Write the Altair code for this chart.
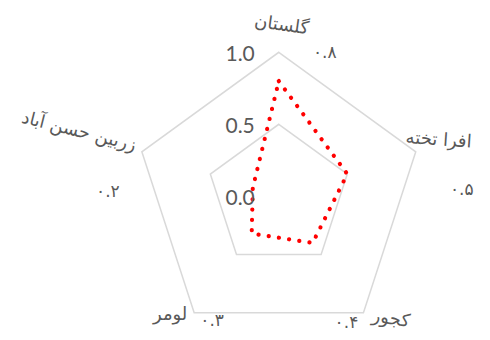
import altair as alt
import pandas as pd

categories = ["گلستان", "افرا تخته", "کجور", "لومر", "زربین حسن آباد"]
values = [0.8, 0.5, 0.4, 0.32, 0.19]
value_labels = ["۰.۸", "۰.۵", "۰.۴", "۰.۳", "۰.۲"]
grid_levels = [0.5, 1.0]
tick_values = [0.0, 0.5, 1.0]
tick_labels = ["0.0", "0.5", "1.0"]

N = len(categories)

df = pd.DataFrame({"idx": list(range(N)), "cat": categories, "value": values,
                   "vlabel": value_labels, "outer": [1.0] * N})
grid = pd.DataFrame([{"idx": i, "level": lv} for lv in grid_levels for i in range(N)])
ticks = pd.DataFrame({"tick": tick_values, "label": tick_labels, "idx": [0] * len(tick_values)})

xs = alt.Scale(domain=[-1.8806, 1.4111], nice=False, zero=False)
ys = alt.Scale(domain=[-0.9424, 1.3076], nice=False, zero=False)
X = alt.X("px:Q", scale=xs, axis=None)
Y = alt.Y("py:Q", scale=ys, axis=None)


def polar(ch, rfield):
    return ch.transform_calculate(ang=f"datum.idx*2*PI/{N}").transform_calculate(
        px=f"datum['{rfield}']*sin(datum.ang)", py=f"datum['{rfield}']*cos(datum.ang)")


grid_layer = polar(alt.Chart(grid), "level").mark_line(
    interpolate="linear-closed", color="#d9d9d9", strokeWidth=1.5
).encode(x=X, y=Y, detail="level:N", order="idx:Q")

data_layer = polar(alt.Chart(df), "value").mark_line(
    interpolate="linear-closed", color="#ff0000", strokeWidth=4.2,
    strokeCap="round", strokeDash=[0.1, 10.2]
).encode(x=X, y=Y, order="idx:Q")

tick_layer = polar(alt.Chart(ticks), "tick").mark_text(
    align="right", baseline="middle", dx=-24, dy=3, font="Lato", fontSize=21, color="#595959"
).encode(x=X, y=Y, text="label:N")

# label offsets from each outer vertex: (dx, dy, angle, align)
cat_off = [(-1, -27, 8, "center"), (-11, -13, 4, "left"), (28, 2, 9, "center"),
           (-24, 2, 0, "center"), (-66, -4, 14, "center")]
val_off = [(46, 1), (46, 38), (-17, 10), (18, 8), (-34, 40)]

label_layers = []
for i in range(N):
    dx, dy, ang, al = cat_off[i]
    label_layers.append(
        polar(alt.Chart(df).transform_filter(alt.datum.idx == i), "outer").mark_text(
            align=al, baseline="middle", dx=dx, dy=dy, angle=ang, font="DejaVu Sans",
            fontSize=18, color="#595959"
        ).encode(x=X, y=Y, text="cat:N"))
    vdx, vdy = val_off[i]
    label_layers.append(
        polar(alt.Chart(df).transform_filter(alt.datum.idx == i), "outer").mark_text(
            align="center", baseline="middle", dx=vdx, dy=vdy, font="DejaVu Sans",
            fontSize=17, color="#595959"
        ).encode(x=X, y=Y, text="vlabel:N"))

chart = alt.layer(grid_layer, data_layer, tick_layer, *label_layers).properties(
    width=474, height=324, autosize=alt.AutoSizeParams(type="none"), padding=0
).configure_view(stroke=None)

chart.save("out.html", embed_options={"renderer": "svg", "actions": False})
